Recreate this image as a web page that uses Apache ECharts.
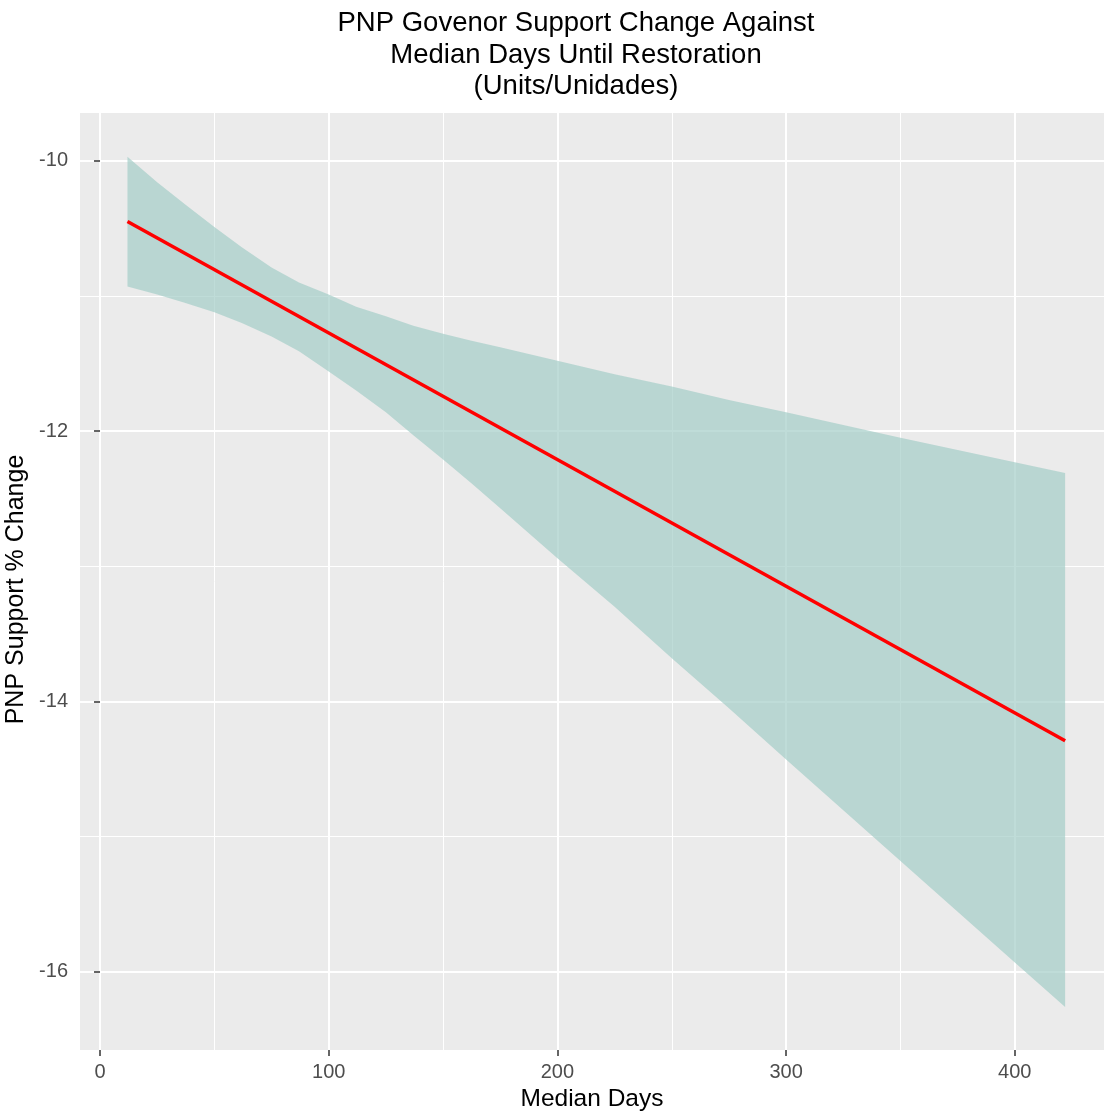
<!DOCTYPE html>
<html>
<head>
<meta charset="utf-8">
<title>PNP Govenor Support Change Against Median Days</title>
<script src="https://cdn.jsdelivr.net/npm/echarts@6/dist/echarts.min.js"></script>
<style>
  html, body { margin: 0; padding: 0; background: #fff; }
  #chart { width: 1104px; height: 1113px; }
</style>
</head>
<body>
<div id="chart"></div>
<script>
// fitted line (linear model) end points
const fitDays = [12, 422];
const fitValues = [-10.45, -14.29];

// confidence band
const bandDays = [12, 25, 37, 50, 62, 75, 87, 100, 112, 125, 137, 150, 162, 175, 200, 225, 250, 275, 300, 350, 400, 422];
const bandUpper = [-9.97, -10.16, -10.32, -10.49, -10.64, -10.79, -10.90, -10.99, -11.08, -11.15, -11.22, -11.28, -11.33, -11.38, -11.48, -11.58, -11.67, -11.77, -11.86, -12.05, -12.23, -12.31];
const bandLower = [-10.93, -10.99, -11.05, -11.12, -11.20, -11.30, -11.41, -11.56, -11.70, -11.86, -12.03, -12.21, -12.38, -12.57, -12.94, -13.30, -13.68, -14.05, -14.43, -15.18, -15.93, -16.26];

// tick positions
const xTicks = [0, 100, 200, 300, 400];
const yTicks = [-16, -14, -12, -10];

const FONT = "'Liberation Sans', Arial, sans-serif";

const chart = echarts.init(document.getElementById("chart"), null, { renderer: "canvas" });

chart.setOption({
  animation: false,
  backgroundColor: "#ffffff",
  title: {
    text: "PNP Govenor Support Change Against\nMedian Days Until Restoration\n(Units/Unidades)",
    left: 576,
    top: 8,
    padding: 0,
    textAlign: "center",
    textStyle: {
      fontFamily: FONT,
      fontSize: 27.5,
      lineHeight: 31.5,
      fontWeight: "normal",
      color: "#000"
    }
  },
  grid: {
    left: 80,
    right: 0,
    top: 113,
    bottom: 63,
    containLabel: false,
    outerBoundsMode: "none",
    show: true,
    backgroundColor: "#EBEBEB",
    borderWidth: 0
  },
  xAxis: {
    type: "value",
    min: -8.75,
    max: 439,
    splitNumber: 5,
    name: "Median Days",
    nameLocation: "middle",
    nameGap: 37,
    nameTextStyle: { fontFamily: FONT, fontSize: 24.5, color: "#000" },
    axisLine: { show: false },
    axisTick: { show: true, length: 6, customValues: xTicks, lineStyle: { color: "#333", width: 1.5 } },
    axisLabel: {
      margin: 12,
      fontFamily: FONT,
      fontSize: 20,
      color: "#4D4D4D",
      customValues: xTicks
    },
    splitLine: { show: true, lineStyle: { color: "#fff", width: 2 } },
    minorTick: { show: false, splitNumber: 2 },
    minorSplitLine: { show: true, lineStyle: { color: "#fff", width: 1 } }
  },
  yAxis: {
    type: "value",
    min: -16.578,
    max: -9.647,
    splitNumber: 3,
    name: "PNP Support % Change",
    nameLocation: "middle",
    nameGap: 46,
    nameTextStyle: { fontFamily: FONT, fontSize: 25, color: "#000", padding: [0, 16, 0, 0] },
    axisLine: { show: false },
    axisTick: { show: true, length: 6, customValues: yTicks, lineStyle: { color: "#333", width: 1.5 } },
    axisLabel: {
      margin: 12,
      fontFamily: FONT,
      fontSize: 20,
      color: "#4D4D4D",
      customValues: yTicks
    },
    splitLine: { show: true, lineStyle: { color: "#fff", width: 2 } },
    minorTick: { show: false, splitNumber: 2 },
    minorSplitLine: { show: true, lineStyle: { color: "#fff", width: 1 } }
  },
  series: [
    {
      name: "band",
      type: "custom",
      z: 2,
      silent: true,
      data: bandDays.map(function (d, i) {
        return [d, bandLower[i], bandUpper[i]];
      }),
      encode: { x: 0, y: [1, 2] },
      renderItem: function (params, api) {
        if (params.dataIndex !== 0) {
          return;
        }
        const upper = bandDays.map(function (d, i) {
          return api.coord([d, bandUpper[i]]);
        });
        const lower = bandDays.map(function (d, i) {
          return api.coord([d, bandLower[i]]);
        }).reverse();
        return {
          type: "polygon",
          shape: { points: upper.concat(lower) },
          style: { fill: "rgba(164, 205, 199, 0.7)" }
        };
      }
    },
    {
      name: "fit",
      type: "line",
      z: 3,
      silent: true,
      symbol: "none",
      lineStyle: { color: "#FF0000", width: 3.5 },
      data: fitDays.map(function (d, i) {
        return [d, fitValues[i]];
      })
    }
  ]
});
</script>
</body>
</html>
